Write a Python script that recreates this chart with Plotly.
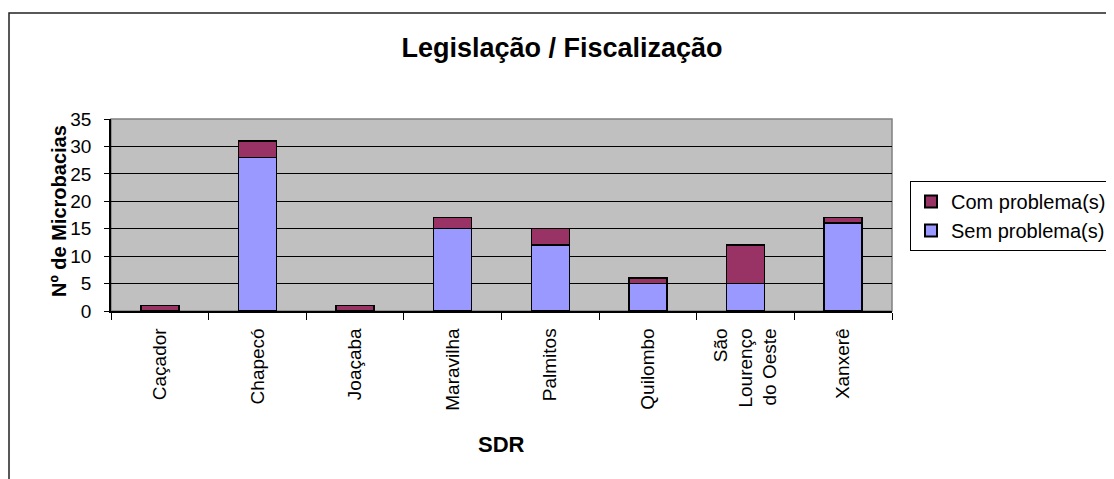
import plotly.graph_objects as go

categories = ["Caçador", "Chapecó", "Joaçaba", "Maravilha", "Palmitos",
              "Quilombo", "São<br>Lourenço<br>do Oeste", "Xanxerê"]
sem_problema = [0, 28, 0, 15, 12, 5, 5, 16]
com_problema = [1, 3, 1, 2, 3, 1, 7, 1]
y_ticks = [0, 5, 10, 15, 20, 25, 30, 35]

FONT = "Liberation Sans, Arial, sans-serif"

fig = go.Figure()
fig.add_trace(go.Bar(
    x=categories, y=sem_problema, name="Sem problema(s)",
    marker=dict(color="#9999FF", line=dict(color="black", width=1.5)),
    width=0.39,
))
fig.add_trace(go.Bar(
    x=categories, y=com_problema, name="Com problema(s)",
    marker=dict(color="#993366", line=dict(color="black", width=1.5)),
    width=0.39,
))

# page body has an 8px margin: work in window coordinates, shift by OFF
OFF = 8
W, H = 1114 - OFF, 479 - OFF
L, R, T, B = 111 - OFF, 892 - OFF, 119 - OFF, 311 - OFF
pw, ph = R - L, B - T

def px(x):
    return (x - OFF - L) / pw

def py(y):
    return (B - (y - OFF)) / ph

fig.update_layout(
    width=W, height=H,
    margin=dict(l=L, r=W - R, t=T, b=H - B, autoexpand=False),
    barmode="stack",
    paper_bgcolor="white",
    plot_bgcolor="#C0C0C0",
    font=dict(family=FONT, color="black", size=19),
    title=dict(text="<b>Legislação / Fiscalização</b>", x=(562 - OFF) / W, xanchor="center",
               y=1 - (48 - OFF) / H, yanchor="middle", yref="container",
               font=dict(family=FONT, size=27, color="black")),
    showlegend=True,
    legend=dict(x=px(910), y=py(181), xanchor="left", yanchor="top",
                traceorder="reversed", bordercolor="black", borderwidth=1,
                bgcolor="white", font=dict(family=FONT, size=20, color="black"),
                itemsizing="constant"),
    annotations=[
        dict(text="<b>Nº de Microbacias</b>", xref="paper", yref="paper",
             x=px(59), y=py(211), xanchor="center", yanchor="middle",
             textangle=-90, showarrow=False,
             font=dict(family=FONT, size=20, color="black")),
        dict(text="<b>SDR</b>", xref="paper", yref="paper",
             x=px(502), y=py(444.5), xanchor="center", yanchor="middle",
             showarrow=False, font=dict(family=FONT, size=22, color="black")),
    ],
)

fig.update_xaxes(
    type="category", showline=True, linecolor="black", linewidth=1.5,
    ticks="outside", tickson="boundaries", ticklen=7, tickcolor="black",
    tickangle=-90, ticklabelstandoff=8,
    tickfont=dict(family=FONT, size=19, color="black"),
    showgrid=False, zeroline=False,
)
fig.update_yaxes(
    range=[0, 35], tickvals=y_ticks, showline=True, linecolor="black", linewidth=1.5,
    ticks="outside", ticklen=5, tickcolor="black", ticklabelstandoff=9,
    tickfont=dict(family=FONT, size=19, color="black"),
    showgrid=True, gridcolor="black", gridwidth=1, zeroline=False,
)

# plot area border (gray) and outer chart frame
fig.add_shape(type="rect", xref="paper", yref="paper", x0=0, x1=1, y0=0, y1=1,
              line=dict(color="#808080", width=1.5), layer="below")
fig.add_shape(type="rect", xref="paper", yref="paper",
              x0=px(OFF + 1), x1=px(1300), y0=py(700), y1=py(13),
              line=dict(color="#222222", width=1.5), layer="above")

fig.write_html("out.html")
